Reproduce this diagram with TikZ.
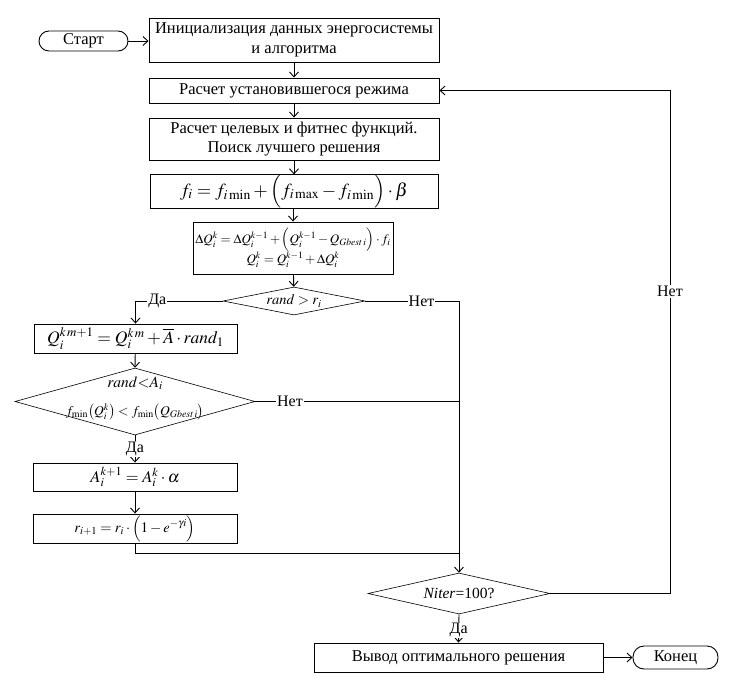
\documentclass[tikz,border=0pt]{standalone}
\usepackage{mathptmx}
\usepackage{fontspec}
\setmainfont{Liberation Serif}
\newfontfamily\tnr{Liberation Serif}
\usetikzlibrary{shapes.geometric,arrows.meta}
\begin{document}
\begin{tikzpicture}[x=1pt,y=-1pt, line width=0.9pt,
  >={Straight Barb[length=5pt,width=9pt]},
  box/.style={draw, rectangle, inner sep=0pt, align=center, font=\tnr\fontsize{16.5}{19.5}\selectfont},
  term/.style={draw, rectangle, rounded corners=10pt, inner sep=0pt, align=center, font=\tnr\fontsize{16.5}{19}\selectfont},
  dia/.style={draw, diamond, inner sep=0pt, line width=0.6pt},
  txt/.style={inner sep=0pt, align=center},
  lbl/.style={fill=white, inner sep=1pt, font=\tnr\fontsize{16}{18}\selectfont}]
\useasboundingbox (0,0) rectangle (753,691);

\node[term, minimum width=89pt, minimum height=20pt] (start) at (83.5,41) {Старт};
\node[box, minimum width=290pt, minimum height=44pt] (init) at (294,40) {Инициализация данных энергосистемы\\и алгоритма};
\node[box, minimum width=290pt, minimum height=25pt] (rezhim) at (294,90.5) {Расчет установившегося режима};
\node[box, minimum width=290pt, minimum height=42pt] (fit) at (294,139) {Расчет целевых и фитнес функций.\\Поиск лучшего решения};
\node[box, minimum width=288pt, minimum height=29pt, font=\fontsize{18.5}{22}\selectfont] (fbox) at (294,191.5) {$f_i=f_{i\min}+\Bigl(f_{i\max}-f_{i\min}\Bigr)\cdot\beta$};
\node[box, minimum width=200pt, minimum height=52pt, font=\fontsize{13}{16}\selectfont] (dq) at (293,248) {$\Delta Q_i^k=\Delta Q_i^{k-1}+\Bigl(Q_i^{k-1}-Q_{Gbest\,i}\Bigr)\cdot f_i$\\[-1pt]$Q_i^k=Q_i^{k-1}+\Delta Q_i^k$};

\node[dia, minimum width=142pt, minimum height=28pt] (d1) at (294,301) {};
\node[txt, font=\fontsize{14.5}{17}\selectfont] at (d1) {$rand>r_i$};

\node[box, minimum width=203pt, minimum height=29pt, font=\fontsize{17.5}{21}\selectfont] (qbox) at (135.5,338.5) {$Q_i^{k\,m+1}=Q_i^{k\,m}+\overline{A}\cdot rand_1$};

\node[dia, minimum width=240pt, minimum height=67pt] (d2) at (135,401.5) {};
\node[txt, font=\fontsize{15.5}{17}\selectfont] (d2a) at (135,383) {$rand{<}A_i$};
\node[txt, font=\fontsize{13.5}{15}\selectfont] (d2b) at (135,412) {$f_{\min}\bigl(Q_i^k\bigr)<f_{\min}\bigl(Q_{Gbest\,i}\bigr)$};

\node[box, minimum width=204pt, minimum height=28pt, font=\fontsize{16.5}{20}\selectfont] (abox) at (135,477) {$A_i^{k+1}=A_i^k\cdot\alpha$};
\node[box, minimum width=204pt, minimum height=29pt, font=\fontsize{14.5}{17}\selectfont] (rbox) at (135,528.5) {$r_{i+1}=r_i\cdot\Bigl(1-e^{-\gamma i}\Bigr)$};

\node[dia, minimum width=182pt, minimum height=41pt] (d3) at (459,593.5) {};
\node[txt, font=\tnr\fontsize{15.5}{17}\selectfont] at (d3) {\textit{Niter}=100?};

\node[box, minimum width=289pt, minimum height=29pt] (out) at (458.5,657.5) {Вывод оптимального решения};
\node[term, minimum width=85pt, minimum height=23pt, rounded corners=11pt] (end) at (675.5,657.5) {Конец};

\coordinate (jn) at (135,553);
\coordinate (jr) at (670,593.5);

\draw[->] (start) -- (start -| init.west);
\draw[->] (init) -- (rezhim);
\draw[->] (rezhim) -- (fit);
\draw[->] (fit) -- (fbox);
\draw[->] (fbox.south -| dq.north) -- (dq);
\draw[->] (dq) -- (d1);
\draw[->] (d1.west) -- node[lbl, pos=0.75] {Да} (d1.west -| qbox.north) -- (qbox);
\draw[->] (d1.east) -- node[lbl, pos=0.6] {Нет} (d1.east -| d3.north) -- (d3.north);
\draw (d2.east) -- node[lbl, pos=0.17] {Нет} (d2.east -| d3.north);
\draw[->] (qbox) -- (d2.north);
\draw[->] (d2.south) -- node[lbl, pos=0.5] {Да} (abox.north);
\draw[->] (abox) -- (rbox);
\draw (rbox.south) -- (jn) -- (jn -| d3.north);
\draw[->] (d3.east) -- (jr) -- node[lbl, pos=0.6] {Нет} (jr |- rezhim.east) -- (rezhim.east);
\draw[->] (d3.south) -- node[lbl, pos=0.55] {Да} (out.north);
\draw[->] (out) -- (end);
\end{tikzpicture}
\end{document}
